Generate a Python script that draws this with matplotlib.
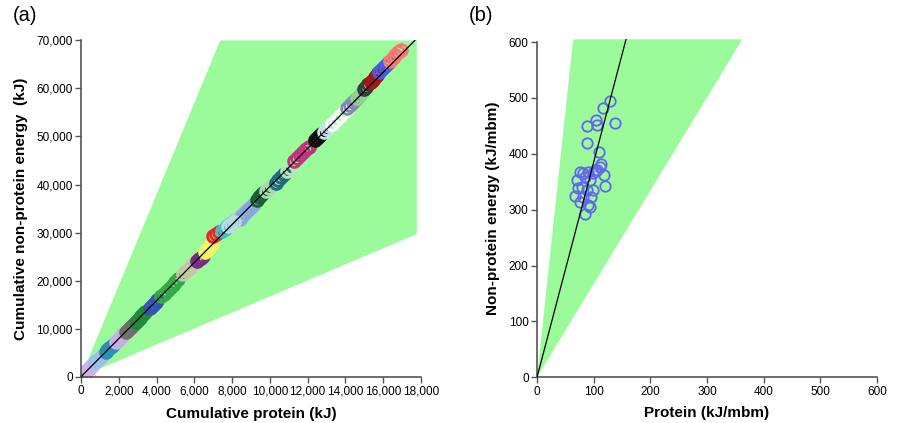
import matplotlib.pyplot as plt
from matplotlib.patches import Polygon
from matplotlib.ticker import FuncFormatter

plt.rcParams['font.family'] = ['Liberation Sans', 'DejaVu Sans']

# ---- data ----
# panel (a): cumulative protein vs cumulative non-protein energy, one colour per patient
group_colors = ["#3b57a8", "#cdb3ea", "#9fc0e6", "#2b8fb3", "#c8aee6", "#6e6e6e",
                "#1f8a3a", "#3355b5", "#35a845", "#c9c7a3", "#7b2a86", "#f4f46a",
                "#e8262a", "#3fc0cc", "#c4c4c4", "#84a8dc", "#b8dce6", "#1b5e3b",
                "#a8dca8", "#1f6a86", "#b8e6b8", "#c2337f", "#111111", "#c4e2ec",
                "#ffffff", "#8a86b8", "#90d090", "#3c3c3c", "#a81515", "#4a5ae8",
                "#ff7373"]
group_protein = [
    [40, 90, 140, 190, 240],
    [330, 420, 500, 580, 660],
    [760, 860, 960, 1060, 1160],
    [1300, 1400, 1500, 1600, 1700],
    [1850, 1950, 2050, 2150, 2250],
    [2400, 2500, 2600, 2700, 2800],
    [2900, 3000, 3100, 3200, 3300, 3400],
    [3650, 3750, 3850, 3950, 4050],
    [4250, 4400, 4550, 4700, 4850, 5000, 5150],
    [5400, 5550, 5700, 5850, 6000],
    [6150, 6250, 6350, 6450],
    [6550, 6650, 6750, 6850, 6950],
    [7000, 7150, 7300],
    [7450, 7600, 7750, 7900, 8050],
    [8150, 8300, 8450, 8600, 8750],
    [8400, 8550, 8700, 8850, 9000, 9150],
    [7800, 7950, 8100],
    [9300, 9420, 9540, 9660],
    [9800, 9950, 10100],
    [10300, 10450, 10600, 10750],
    [10900, 11050],
    [11300, 11450, 11600, 11750, 11900, 12050],
    [12400, 12500, 12600, 12700],
    [12850, 13000, 13150],
    [13300, 13500, 13700, 13900, 14100],
    [14100, 14250, 14400, 14550],
    [14600, 14750, 14900],
    [15000, 15100, 15200],
    [15350, 15450, 15550, 15650, 15750],
    [15800, 15950, 16100, 16250],
    [16350, 16500, 16650, 16800, 16950],
]
group_energy = [
    [150, 350, 540, 740, 930],
    [1300, 1650, 1950, 2280, 2590],
    [2980, 3380, 3760, 4150, 4540],
    [5100, 5490, 5880, 6270, 6650],
    [7250, 7650, 8040, 8430, 8820],
    [9400, 9800, 10200, 10600, 11000],
    [11400, 11800, 12200, 12600, 13000, 13400],
    [14300, 14700, 15100, 15500, 15900],
    [16700, 17300, 17900, 18500, 19100, 19700, 20300],
    [21300, 21900, 22500, 23100, 23700],
    [24000, 24400, 24800, 25200],
    [25900, 26400, 26800, 27300, 27700],
    [29200, 29700, 30100],
    [30300, 30800, 31300, 31800, 32300],
    [32600, 33100, 33600, 34100, 34600],
    [32900, 33500, 34100, 34700, 35300, 35900],
    [31300, 31800, 32300],
    [36800, 37300, 37800, 38300],
    [38700, 39300, 39800],
    [40300, 40900, 41500, 42100],
    [42900, 43500],
    [44900, 45500, 46100, 46700, 47300, 47900],
    [49300, 49700, 50100, 50500],
    [50900, 51500, 52100],
    [52600, 53400, 54200, 55000, 55800],
    [56000, 56600, 57200, 57800],
    [58100, 58700, 59300],
    [59900, 60400, 60900],
    [61300, 61800, 62300, 62800, 63300],
    [63500, 64100, 64700, 65300],
    [65700, 66300, 66900, 67500, 68100],
]
fit_slope_a = 3.96

# panel (b): per-patient rates
protein_b = [128, 117, 104, 105, 89, 138, 88, 109, 113, 111, 106, 119, 120,
             75, 82, 90, 98, 102, 70, 85, 93, 73, 79, 88, 98, 67, 82, 95,
             90, 76, 85, 94]
energy_b = [494, 482, 461, 451, 450, 455, 420, 404, 382, 376, 371, 362, 343,
            368, 365, 368, 365, 371, 353, 358, 353, 338, 341, 336, 335, 324,
            323, 322, 308, 314, 292, 305]
fit_slope_b = 3.85

# acceptable ratio band (non-protein : protein)
band_upper = 9.5
band_lower = 1.67

fig = plt.figure(figsize=(8.98, 4.23), dpi=100)
ax1 = fig.add_axes([0.0902, 0.1095, 0.3786, 0.795])
ax2 = fig.add_axes([0.598, 0.108, 0.3786, 0.799])


def style(ax):
    for s in ['top', 'right']:
        ax.spines[s].set_visible(False)
    for s in ['left', 'bottom']:
        ax.spines[s].set_color('#555555')
        ax.spines[s].set_linewidth(1.2)
    ax.tick_params(direction='out', length=4, width=1, color='#555555',
                   labelsize=8.5, pad=2)


# ---- (a) ----
xa_max, ya_max = 17780, 70000
ax1.add_patch(Polygon([(0, 0), (ya_max / band_upper, ya_max), (xa_max, ya_max),
                       (xa_max, xa_max * band_lower)],
                      closed=True, facecolor='#9bfb9b', edgecolor='none', zorder=1))
for c, xs, ys in zip(group_colors, group_protein, group_energy):
    ax1.plot(xs, ys, linestyle='none', marker='o', markersize=8.5,
             markerfacecolor='none', markeredgecolor=c, markeredgewidth=2.0, zorder=2)
ax1.plot([0, ya_max / fit_slope_a], [0, ya_max], color='black', lw=0.9, zorder=3)
ax1.set_xlim(0, 18000)
ax1.set_ylim(0, 70000)
ax1.set_xticks(range(0, 18001, 2000))
ax1.set_yticks(range(0, 70001, 10000))
fmt = FuncFormatter(lambda v, p: f"{int(v):,}")
ax1.xaxis.set_major_formatter(fmt)
ax1.yaxis.set_major_formatter(fmt)
style(ax1)
ax1.set_xlabel("Cumulative protein (kJ)", fontsize=11, fontweight='bold', labelpad=7)
ax1.set_ylabel("Cumulative non-protein energy  (kJ)", fontsize=11, fontweight='bold', labelpad=6)
fig.text(0.014, 0.95, "(a)", fontsize=14.5)

# ---- (b) ----
yb_top = 605
ax2.add_patch(Polygon([(0, 0), (yb_top / band_upper, yb_top), (yb_top / band_lower, yb_top)],
                      closed=True, facecolor='#9bfb9b', edgecolor='none', zorder=1))
ax2.plot(protein_b, energy_b, linestyle='none', marker='o', markersize=7.5,
         markerfacecolor='none', markeredgecolor='#6464f2', markeredgewidth=1.3, zorder=2)
ax2.plot([0, yb_top / fit_slope_b], [0, yb_top], color='black', lw=0.9, zorder=3)
ax2.set_xlim(0, 600)
ax2.set_ylim(0, yb_top)
ax2.spines['left'].set_bounds(0, 600)
ax2.set_xticks(range(0, 601, 100))
ax2.set_yticks(range(0, 601, 100))
style(ax2)
ax2.set_xlabel("Protein (kJ/mbm)", fontsize=11, fontweight='bold', labelpad=6)
ax2.set_ylabel("Non-protein energy (kJ/mbm)", fontsize=11, fontweight='bold', labelpad=6)
fig.text(0.522, 0.95, "(b)", fontsize=14.5)

fig.savefig("out.png", dpi=100)
